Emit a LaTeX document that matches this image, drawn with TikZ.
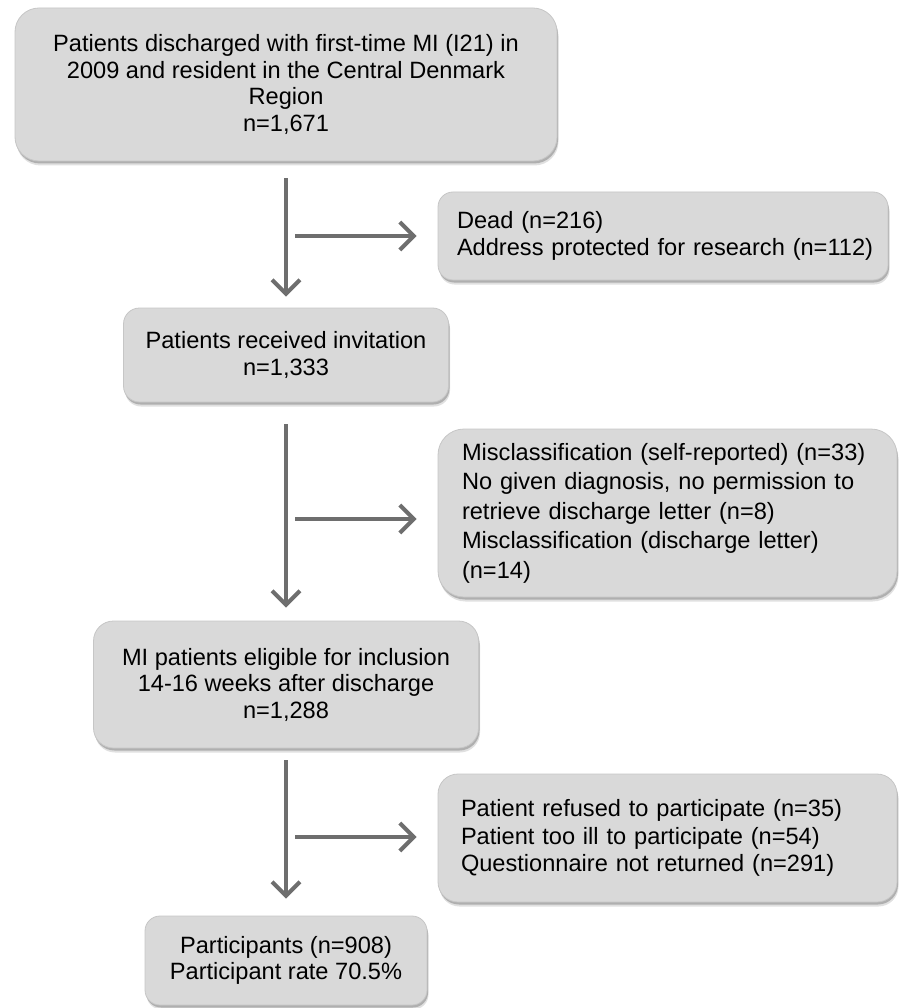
\documentclass[tikz,border=0pt]{standalone}
\usepackage{fontspec}
\setmainfont{Liberation Sans}
\usetikzlibrary{arrows.meta,shadows}
\definecolor{boxfill}{HTML}{D9D9D9}
\definecolor{boxline}{HTML}{C6C6C6}
\definecolor{arrowgray}{HTML}{6E6E6E}
\begin{document}
\begin{tikzpicture}[x=1pt,y=-1pt,
  font=\fontsize{23.6}{26.5}\selectfont,
  flowbox/.style={draw=boxline, line width=0.8pt, fill=boxfill, inner ysep=0pt,
    general shadow={shadow xshift=1.5pt, shadow yshift=-4.5pt, fill=black, opacity=0.12},
    general shadow={shadow xshift=1pt, shadow yshift=-2.5pt, fill=black, opacity=0.22}},
  ctext/.style={align=center, inner xsep=0pt},
  ltext/.style={align=left},
  arr/.style={draw=arrowgray, line width=4pt,
    -{Straight Barb[length=14pt,width=28pt,line width=4pt]}}]
\useasboundingbox (0,0) rectangle (900,1008);

\node[flowbox, ctext, rounded corners=24pt, minimum width=542pt, minimum height=153pt] (b1) at (286,84.5)
  {Patients discharged with first-time MI (I21) in\\2009 and resident in the Central Denmark\\Region\\n=1,671};

\node[flowbox, ltext, rounded corners=15pt, minimum width=450pt, minimum height=88pt,
  inner xsep=19pt, text width=412pt] (b2) at (663,236)
  {\mbox{Dead (n=216)}\\\mbox{Address protected for research (n=112)}};

\node[flowbox, ctext, rounded corners=16pt, minimum width=325pt, minimum height=94pt] (b3) at (286,355)
  {Patients received invitation\\n=1,333};

\node[flowbox, ltext, rounded corners=26pt, minimum width=459pt, minimum height=168pt,
  inner xsep=24pt, text width=411pt, font=\fontsize{23.6}{29.5}\selectfont] (b4) at (667.5,513)
  {Misclassification (self-reported) (n=33)\\No given diagnosis, no permission to\\retrieve discharge letter (n=8)\\Misclassification (discharge letter)\\(n=14)};

\node[flowbox, ctext, rounded corners=20pt, minimum width=385pt, minimum height=127pt] (b5) at (286,684.5)
  {MI patients eligible for inclusion\\14-16 weeks after discharge\\n=1,288};

\node[flowbox, ltext, rounded corners=20pt, minimum width=459pt, minimum height=128pt,
  inner xsep=23pt, text width=413pt, font=\fontsize{23.6}{27.5}\selectfont] (b6) at (667.5,838)
  {Patient refused to participate (n=35)\\Patient too ill to participate (n=54)\\Questionnaire not returned (n=291)};

\node[flowbox, ctext, rounded corners=15pt, minimum width=282pt, minimum height=89pt] (b7) at (286,960.5)
  {Participants (n=908)\\Participant rate 70.5\%};

% vertical arrows
\draw[arr, shorten <=17pt, shorten >=11pt] (b1.south) -- (b3.north);
\draw[arr, shorten <=22pt, shorten >=13pt] (b3.south) -- (b5.north);
\draw[arr, shorten <=12pt, shorten >=17pt] (b5.south) -- (b7.north);

% side arrows
\coordinate (h1) at (286,236);
\coordinate (h2) at (286,519);
\coordinate (h3) at (286,837);
\draw[arr, shorten <=9pt, shorten >=21pt] (h1) -- (h1 -| b2.west);
\draw[arr, shorten <=9pt, shorten >=21pt] (h2) -- (h2 -| b4.west);
\draw[arr, shorten <=9pt, shorten >=21pt] (h3) -- (h3 -| b6.west);
\end{tikzpicture}
\end{document}
